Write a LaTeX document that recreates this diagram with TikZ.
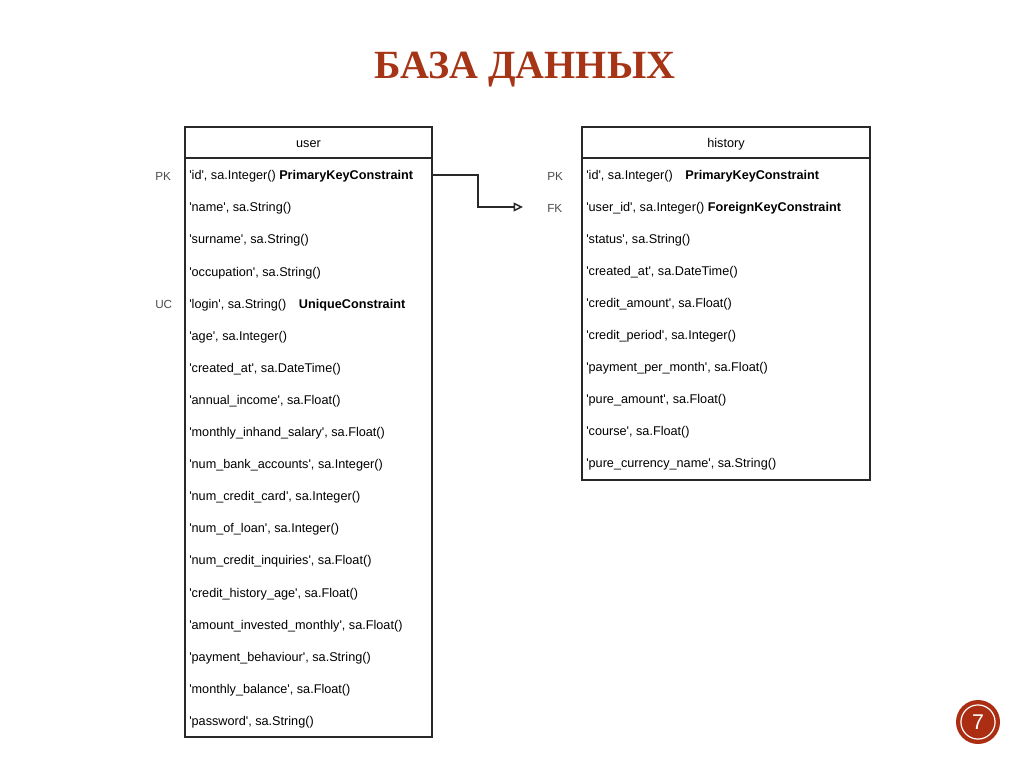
\documentclass[tikz,border=0pt]{standalone}
\usepackage{fontspec}
\usepackage{xcolor}
\usepackage{tikz}
\usetikzlibrary{calc,arrows.meta,positioning}
\setmainfont{Liberation Sans}
\newfontfamily\titlefont{Liberation Serif}
\definecolor{slideRed}{RGB}{166,52,22}
\definecolor{circleRed}{RGB}{172,46,18}
\definecolor{erdGray}{RGB}{40,40,40}
\newcommand{\q}{\textquotesingle}
\tikzset{
  tablebox/.style={draw=erdGray, line width=0.9pt, fill=white},
  rowtext/.style={anchor=west, inner sep=0pt, font=\fontsize{9.5}{11}\selectfont},
  keytext/.style={anchor=west, inner sep=0pt, text=black!70, font=\fontsize{8.8}{10}\selectfont},
  fkarrow/.style={draw=erdGray, line width=1.1pt, -{Triangle[open,length=7pt,width=6.5pt]}}
}

\begin{document}
\begin{tikzpicture}[x=0.75pt,y=-0.75pt]
\useasboundingbox[fill=white] (0,0) rectangle (1024,767);

% title
\node[text=slideRed, font=\titlefont\bfseries\fontsize{30}{34}\selectfont] (title) at (525,70) {БАЗА ДАННЫХ};

% table user
\draw[tablebox] (185,127) rectangle (432,737);
\draw[erdGray, line width=0.9pt] (185,158) -- (432,158);
\node[rowtext, anchor=center] (userhead) at (308.5,144) {user};
\coordinate (userR) at (432,175);
\foreach \txt [count=\i] in {
  {\q id\q, sa.Integer() \textbf{PrimaryKeyConstraint}},
  {\q name\q, sa.String()},
  {\q surname\q, sa.String()},
  {\q occupation\q, sa.String()},
  {\q login\q, sa.String()\quad\textbf{UniqueConstraint}},
  {\q age\q, sa.Integer()},
  {\q created\_at\q, sa.DateTime()},
  {\q annual\_income\q, sa.Float()},
  {\q monthly\_inhand\_salary\q, sa.Float()},
  {\q num\_bank\_accounts\q, sa.Integer()},
  {\q num\_credit\_card\q, sa.Integer()},
  {\q num\_of\_loan\q, sa.Integer()},
  {\q num\_credit\_inquiries\q, sa.Float()},
  {\q credit\_history\_age\q, sa.Float()},
  {\q amount\_invested\_monthly\q, sa.Float()},
  {\q payment\_behaviour\q, sa.String()},
  {\q monthly\_balance\q, sa.Float()},
  {\q password\q, sa.String()}}
  \node[rowtext] (u\i) at (189,{176.5+32.1*(\i-1)}) {\txt};
\node[keytext] (upk) at (155,176) {PK};
\node[keytext] (uuc) at (155,304) {UC};

% table history
\draw[tablebox] (582,127) rectangle (870,480);
\draw[erdGray, line width=0.9pt] (582,158) -- (870,158);
\node[rowtext, anchor=center] (histhead) at (726,144) {history};
\foreach \txt [count=\i] in {
  {\q id\q, sa.Integer()\quad\textbf{PrimaryKeyConstraint}},
  {\q user\_id\q, sa.Integer() \textbf{ForeignKeyConstraint}},
  {\q status\q, sa.String()},
  {\q created\_at\q, sa.DateTime()},
  {\q credit\_amount\q, sa.Float()},
  {\q credit\_period\q, sa.Integer()},
  {\q payment\_per\_month\q, sa.Float()},
  {\q pure\_amount\q, sa.Float()},
  {\q course\q, sa.Float()},
  {\q pure\_currency\_name\q, sa.String()}}
  \node[rowtext] (h\i) at (586,{176.5+32*(\i-1)}) {\txt};
\node[keytext] (hpk) at (547,176) {PK};
\node[keytext] (hfk) at (547,208) {FK};

% foreign key link
\draw[fkarrow] (userR) -- ++(46,0) |- ([xshift=-18pt,yshift=0.75pt]hfk.west);

% page number
\node[circle, fill=circleRed, minimum size=33pt, inner sep=0pt] (pagenum) at (978,722) {};
\draw[white, line width=0.9pt] (pagenum.center) circle (12.8pt);
\node[text=white, font=\fontsize{16}{18}\selectfont] at (pagenum.center) {7};
\end{tikzpicture}
\end{document}
